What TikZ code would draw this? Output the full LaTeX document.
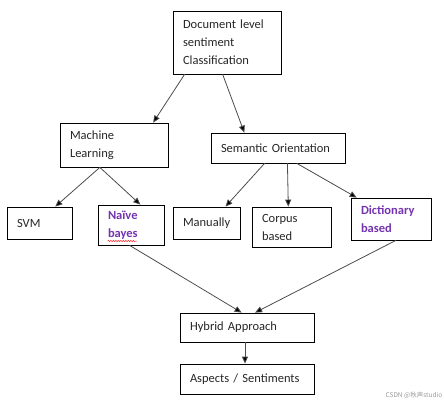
\documentclass[tikz,border=0pt]{standalone}
\usepackage{fontspec}
\setmainfont{Carlito}
\newfontfamily\cjk{Noto Sans CJK SC}
\usepackage{xcolor}
\usepackage{tikz}
\usetikzlibrary{calc,arrows.meta,decorations.pathmorphing}

\definecolor{boxtext}{HTML}{262626}
\definecolor{optpurple}{HTML}{7434B0}

\newcommand{\opt}[1]{\textcolor{optpurple}{\textbf{#1}}}

\begin{document}
\begin{tikzpicture}[x=1pt, y=-1pt, line cap=round,
  block/.style={draw=black, line width=0.8pt, align=left, inner xsep=10pt, inner ysep=0pt,
    text=boxtext, font=\fontsize{12.5}{18}\selectfont},
  arrowline/.style={draw=black!70, line width=0.8pt, -{Triangle[length=7pt,width=6pt,fill=black]}},
  spellmark/.style={draw=red!85, line width=0.5pt, decorate,
    decoration={snake, segment length=2.5pt, amplitude=0.7pt}},
  watermark/.style={text=black!40, inner sep=0pt, font=\cjk\fontsize{6.5}{8}\selectfont}]

  \useasboundingbox (0,0) rectangle (444,406);

  \newcommand{\blockbox}[6]{% #1=name, #2=x1, #3=y1, #4=x2, #5=y2, #6=text
    \pgfmathsetmacro\bw{#4-#2}
    \pgfmathsetmacro\bh{#5-#3}
    \pgfmathsetmacro\tw{#4-#2-20}
    \node[block, minimum width=\bw pt, minimum height=\bh pt, text width=\tw pt]
      (#1) at ({(#2+#4)/2},{(#3+#5)/2}) {#6};
  }

  \newcommand{\arrowlink}[4]{% #1=from, #2=where on its bottom, #3=to, #4=where on its top
    \draw[arrowline] ($(#1.south west)!#2!(#1.south east)$) -- ($(#3.north west)!#4!(#3.north east)$);
  }

  % top
  \blockbox{doc}{173}{11}{281}{74}{Document level\\sentiment\\Classification}

  % two approaches
  \blockbox{ml}{60}{123}{168}{167}{Machine\\Learning}
  \blockbox{so}{211}{133}{345}{163}{Semantic Orientation}

  % methods
  \blockbox{svm}{7}{207}{72}{239}{SVM}
  \blockbox{naive}{98}{205}{164}{245}{\opt{Naïve}\\\opt{bayes}}
  \blockbox{manual}{173}{207}{240}{239}{Manually}
  \blockbox{corpus}{252}{207}{331}{247}{Corpus\\based}
  \blockbox{dict}{351}{198}{431}{240}{\opt{Dictionary}\\\opt{based}}

  % bottom
  \blockbox{hybrid}{180}{313}{314}{342}{Hybrid Approach}
  \blockbox{aspects}{180}{364}{314}{394}{Aspects / Sentiments}

  \arrowlink{doc}{0.11}{ml}{0.86}
  \arrowlink{doc}{0.46}{so}{0.25}

  \arrowlink{ml}{0.37}{svm}{0.74}
  \arrowlink{ml}{0.37}{naive}{0.64}

  \arrowlink{so}{0.40}{manual}{0.78}
  \arrowlink{so}{0.57}{corpus}{0.46}
  \arrowlink{so}{0.64}{dict}{0.075}

  \arrowlink{naive}{0.48}{hybrid}{0.46}
  \arrowlink{dict}{0.56}{hybrid}{0.56}
  \arrowlink{hybrid}{0.485}{aspects}{0.485}

  % spell check mark under "bayes"
  \draw[spellmark] ($(naive.west)+(10,16)$) -- ++(29,0);

  \node[watermark] (mark) at (414,395) {CSDN @秋声studio};
\end{tikzpicture}
\end{document}
